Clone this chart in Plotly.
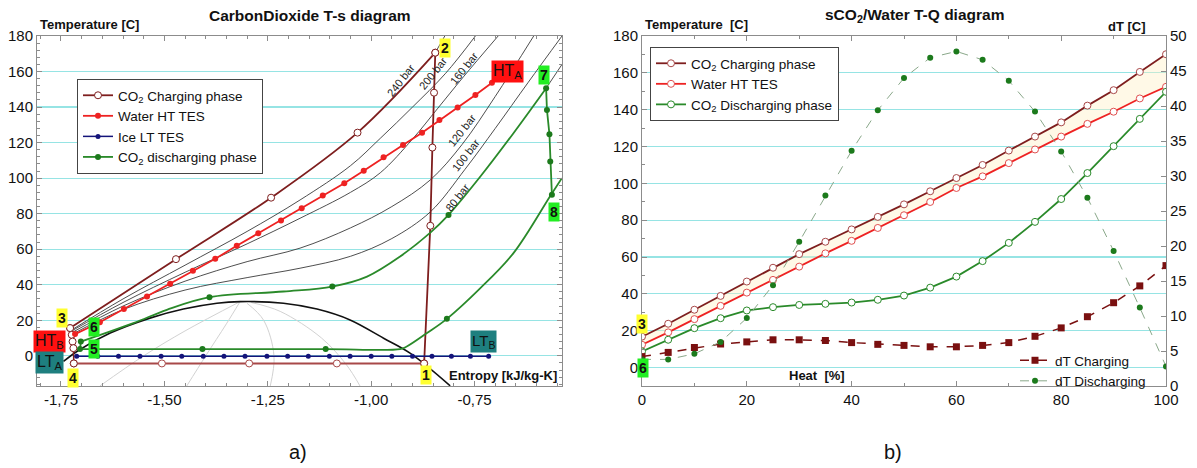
import plotly.graph_objects as go

W, H = 1197, 468

# ---------------- Left chart (T-s) data ----------------
ch12_s = [-0.872, -0.857, -0.852, -0.848, -0.845]
ch12_T = [-4.3, 73.2, 117.2, 148.1, 170.6]
ch23_s = [-0.845, -1.033, -1.242, -1.472, -1.728]
ch23_T = [170.6, 125.6, 89.0, 54.4, 15.6]
ch34_s = [-1.728, -1.724, -1.722, -1.720, -1.719]
ch34_T = [15.6, 11.8, 8.0, 4.3, -4.3]
ch41_s = [-1.719, -1.506, -1.295, -1.083, -0.872]
ch41_T = [-4.3, -4.3, -4.3, -4.3, -4.3]

hw_s = [-1.716, -1.656, -1.598, -1.542, -1.486, -1.431, -1.377, -1.325, -1.273, -1.218,
        -1.168, -1.117, -1.065, -1.018, -0.970, -0.923, -0.877, -0.835, -0.791, -0.748, -0.708]
hw_T = [12.2, 18.9, 26.3, 33.4, 40.5, 47.8, 54.6, 61.9, 69.0, 76.1,
        83.1, 90.2, 97.1, 104.2, 111.7, 118.7, 125.6, 132.7, 139.7, 146.8, 153.7]

ice_s = [-1.712, -1.661, -1.611, -1.559, -1.508, -1.458, -1.406, -1.356, -1.305, -1.252, -1.202,
         -1.152, -1.101, -1.051, -1.000, -0.950, -0.900, -0.853, -0.806, -0.760, -0.716]
ice_T = [-0.3] * 21

dc56_s = [-1.704, -1.702]
dc56_T = [3.8, 8.0]
dc67_s = [-1.702, -1.575, -1.494, -1.391, -1.212, -1.094, -1.010, -0.930, -0.857, -0.813, -0.736, -0.656, -0.577]
dc67_T = [8.0, 18.4, 25.9, 33.0, 36.2, 39.0, 44.6, 55.9, 69.3, 79.3, 100.9, 125.3, 150.6]
dc67_mk_s = [-1.391, -1.094, -0.813]
dc67_mk_T = [33.0, 39.0, 79.3]
dc78_s = [-0.577, -0.575, -0.569, -0.567, -0.563]
dc78_T = [150.6, 138.4, 124.7, 109.3, 90.6]
dc85_s = [-0.539, -0.567, -0.656, -0.736, -0.817, -0.865, -0.914, -0.930, -1.110, -1.408, -1.704]
dc85_T = [100.0, 90.0, 57.8, 38.1, 20.8, 12.8, 5.2, 3.8, 3.8, 3.8, 3.8]
dc85_mk_s = [-0.817, -1.110, -1.408]
dc85_mk_T = [20.8, 3.8, 3.8]

# isobars (thin lines): 200, 160, 120, 100 bar
iso_s = [
    [-1.728, -1.60, -1.45, -1.30, -1.172, -1.05, -0.978, -0.90, -0.82, -0.748],
    [-1.728, -1.60, -1.45, -1.30, -1.172, -1.05, -0.978, -0.90, -0.84, -0.777, -0.693],
    [-1.728, -1.60, -1.45, -1.30, -1.172, -1.05, -0.95, -0.857, -0.78, -0.70, -0.607],
    [-1.728, -1.60, -1.45, -1.30, -1.172, -1.05, -0.95, -0.857, -0.773, -0.70, -0.62, -0.5386],
]
iso_T = [
    [14.0, 32, 51, 70, 87.7, 107, 122.4, 140, 159, 180],
    [13.5, 30, 47, 63, 77.4, 92, 103, 122, 139, 157, 180],
    [12.5, 28, 42, 53, 60.6, 72, 84, 99, 119, 146, 180],
    [11.5, 26, 37, 44, 49.3, 56, 66, 81, 105, 128, 154, 180],
]
iso80_ext_s = [-0.577, -0.5386]
iso80_ext_T = [150.6, 164.0]
iso240_ext_s = [-0.845, -0.822]
iso240_ext_T = [170.6, 180.0]
iso_labels = ["240 bar", "200 bar", "160 bar", "120 bar", "100 bar", "80 bar"]
iso_lab_s = [-0.928, -0.850, -0.775, -0.780, -0.771, -0.790]
iso_lab_T = [155.2, 159.2, 162.0, 127.1, 113.0, 89.1]

dome_s = [-1.744, -1.708, -1.631, -1.535, -1.454, -1.373, -1.317, -1.212, -1.131, -1.051, -0.970, -0.906, -0.809]
dome_T = [-3.2, 3.0, 12.8, 21.2, 26.3, 29.6, 30.5, 29.6, 26.3, 20.2, 9.9, 1.5, -16.9]

qual_s = [
    [-1.656, -1.55, -1.45, -1.317],
    [-1.446, -1.40, -1.35, -1.317],
    [-1.244, -1.235, -1.26, -1.30],
    [-1.027, -1.06, -1.12, -1.22, -1.29],
]
qual_T = [
    [-17, 0, 14, 30.5],
    [-17, 0, 18, 30.5],
    [-17, 0, 20, 29.5],
    [-17, -5, 10, 25, 30],
]

# ---------------- Right chart (T-Q) data ----------------
heat = [0, 5, 10, 15, 20, 25, 30, 35, 40, 45, 50, 55, 60, 65, 70, 75, 80, 85, 90, 95, 100]
tq_charge = [16.8, 23.8, 31.4, 38.9, 46.7, 54.2, 61.6, 68.3, 75.0, 81.8, 88.6, 95.7, 102.9,
             110.0, 117.8, 125.4, 133.1, 142.2, 150.6, 160.5, 170.1]
tq_water = [12.4, 19.1, 26.3, 33.5, 40.7, 47.6, 54.8, 62.0, 68.8, 75.8, 82.7, 89.9, 97.5,
            103.8, 111.0, 118.4, 125.4, 132.3, 138.9, 146.1, 152.4]
tq_disch = [8.8, 15.1, 21.4, 26.8, 31.0, 32.8, 34.0, 34.6, 35.3, 36.8, 39.1, 43.4, 49.4,
            57.8, 67.7, 79.1, 91.5, 105.6, 120.2, 135.0, 149.7]
dt_charge = [4.2, 4.8, 5.5, 6.0, 6.3, 6.6, 6.6, 6.5, 6.2, 5.95, 5.8, 5.6, 5.6, 5.8, 6.2,
             7.1, 8.3, 9.9, 11.9, 14.3, 17.2]
dt_disch = [3.8, 3.8, 4.6, 6.3, 9.7, 14.4, 20.6, 27.2, 33.6, 39.4, 44.0, 46.9, 47.8, 46.6,
            43.6, 39.2, 33.5, 26.9, 19.3, 11.2, 2.8]

left_xticks = [-1.75, -1.50, -1.25, -1.00, -0.75]
left_xtext = ["-1,75", "-1,50", "-1,25", "-1,00", "-0,75"]

# ---------------- styles ----------------
C_BROWN = "#7E1E1E"
C_BROWN2 = "#A84848"
C_RED = "#EE2222"
C_NAVY = "#14147A"
C_GREEN = "#2A8A2A"
C_GREEN_D = "#1C7A1C"
C_ISO = "#3A3A3A"
C_GRID = "#96E4E4"
FONT = "Arial, Liberation Sans, sans-serif"

fig = go.Figure()

def line(xs, ys, color, width=1.5, xa="x", ya="y", **kw):
    fig.add_trace(go.Scatter(x=xs, y=ys, mode="lines", line=dict(color=color, width=width),
                             xaxis=xa, yaxis=ya, showlegend=False, hoverinfo="skip", **kw))

for qs, qt in zip(qual_s, qual_T):
    line(qs, qt, "#D2D2D2", 1, line_shape="spline")
line(dome_s, dome_T, "#111111", 1.6, line_shape="spline")
for s_, t_ in zip(iso_s, iso_T):
    line(s_, t_, C_ISO, 0.9, line_shape="spline")
line(iso80_ext_s, iso80_ext_T, C_ISO, 0.9)
line(iso240_ext_s, iso240_ext_T, C_ISO, 0.9)

# charging cycle
fig.add_trace(go.Scatter(x=ch23_s, y=ch23_T, mode="lines+markers", line=dict(color=C_BROWN, width=1.8, shape="spline"),
                         marker=dict(symbol="circle", size=7, color="white", line=dict(color=C_BROWN, width=1)),
                         name="CO<sub>2</sub> Charging phase", legend="legend"))
fig.add_trace(go.Scatter(x=ch41_s, y=ch41_T, mode="lines+markers", line=dict(color=C_BROWN2, width=2),
                         marker=dict(symbol="circle", size=7, color="white", line=dict(color=C_BROWN2, width=1)),
                         showlegend=False, hoverinfo="skip"))
fig.add_trace(go.Scatter(x=ch12_s, y=ch12_T, mode="lines+markers", line=dict(color=C_BROWN, width=1.8),
                         marker=dict(symbol="circle", size=7, color="white", line=dict(color=C_BROWN, width=1)),
                         showlegend=False))
fig.add_trace(go.Scatter(x=ch34_s, y=ch34_T, mode="lines+markers", line=dict(color=C_BROWN, width=1.5),
                         marker=dict(symbol="circle", size=7, color="white", line=dict(color=C_BROWN, width=1)),
                         showlegend=False))

fig.add_trace(go.Scatter(x=hw_s, y=hw_T, mode="lines+markers", line=dict(color=C_RED, width=1.8),
                         marker=dict(symbol="circle", size=6, color=C_RED),
                         name="Water HT TES", legend="legend"))
fig.add_trace(go.Scatter(x=ice_s, y=ice_T, mode="lines+markers", line=dict(color=C_NAVY, width=1.5),
                         marker=dict(symbol="circle", size=5, color=C_NAVY),
                         name="Ice LT TES", legend="legend"))
line(dc85_s, dc85_T, C_GREEN, 1.8, line_shape="spline")
line(dc67_s, dc67_T, C_GREEN, 1.8, line_shape="spline")
line(dc56_s, dc56_T, C_GREEN, 1.8)
fig.add_trace(go.Scatter(x=dc78_s, y=dc78_T, mode="lines+markers", line=dict(color=C_GREEN, width=1.8),
                         marker=dict(symbol="circle", size=6, color=C_GREEN_D),
                         name="CO<sub>2</sub> discharging phase", legend="legend"))
fig.add_trace(go.Scatter(x=dc67_mk_s + dc85_mk_s + dc56_s, y=dc67_mk_T + dc85_mk_T + dc56_T, mode="markers",
                         marker=dict(symbol="circle", size=6, color=C_GREEN_D), showlegend=False, hoverinfo="skip"))

# ---------------- right chart traces ----------------
fig.add_trace(go.Scatter(x=heat, y=tq_water, mode="lines", line=dict(color=C_RED, width=0),
                         xaxis="x2", yaxis="y2", showlegend=False, hoverinfo="skip"))
fig.add_trace(go.Scatter(x=heat, y=tq_charge, mode="lines", line=dict(color=C_BROWN, width=0),
                         fill="tonexty", fillcolor="rgba(255,240,195,0.4)",
                         xaxis="x2", yaxis="y2", showlegend=False, hoverinfo="skip"))
fig.add_trace(go.Scatter(x=heat, y=tq_charge, mode="lines+markers", line=dict(color=C_BROWN, width=1.8),
                         marker=dict(symbol="circle", size=7, color="white", line=dict(color=C_BROWN2, width=1)),
                         name="CO<sub>2</sub> Charging phase", xaxis="x2", yaxis="y2", legend="legend2"))
fig.add_trace(go.Scatter(x=heat, y=tq_water, mode="lines+markers", line=dict(color=C_RED, width=1.8),
                         marker=dict(symbol="circle", size=7, color="white", line=dict(color="#E05050", width=1)),
                         name="Water HT TES", xaxis="x2", yaxis="y2", legend="legend2"))
fig.add_trace(go.Scatter(x=heat, y=tq_disch, mode="lines+markers", line=dict(color=C_GREEN, width=1.8),
                         marker=dict(symbol="circle", size=7, color="white", line=dict(color=C_GREEN, width=1)),
                         name="CO<sub>2</sub> Discharging phase", xaxis="x2", yaxis="y2", legend="legend2"))
fig.add_trace(go.Scatter(x=heat, y=dt_charge, mode="lines+markers", line=dict(color="#7A1010", width=1.5, dash="dash"),
                         marker=dict(symbol="square", size=7, color="#7A1010"),
                         name="dT Charging", xaxis="x2", yaxis="y3", legend="legend3"))
fig.add_trace(go.Scatter(x=heat, y=dt_disch, mode="lines+markers", line=dict(color="#8AA88A", width=1, dash="dash"),
                         marker=dict(symbol="circle", size=6, color=C_GREEN_D),
                         name="dT Discharging", xaxis="x2", yaxis="y3", legend="legend3"))

# ---------------- axes ----------------
ydom = [1 - 386 / H, 1 - 36 / H]
tickfont = dict(family=FONT, size=15, color="#111")
axcommon = dict(showline=True, linecolor="#8C8C8C", linewidth=1, ticks="inside", ticklen=5,
                tickcolor="#8C8C8C", zeroline=False, tickfont=tickfont, automargin=False)

fig.update_layout(
    xaxis=dict(domain=[37 / W, 562 / W], range=[-1.808, -0.5386], tickvals=left_xticks, ticktext=left_xtext,
               showgrid=False, mirror="ticks", anchor="y",
               minor=dict(ticks="inside", dtick=0.05, tick0=-1.75, ticklen=3, tickcolor="#8C8C8C"), **axcommon),
    yaxis=dict(domain=ydom, range=[-17, 180], dtick=20, tick0=0, showgrid=True, gridcolor=C_GRID, gridwidth=1.2,
               mirror="ticks", anchor="x",
               minor=dict(ticks="inside", dtick=4, tick0=0, ticklen=3, tickcolor="#8C8C8C", showgrid=False), **axcommon),
    xaxis2=dict(domain=[642 / W, 1166 / W], range=[0, 100], dtick=20, tick0=0, showgrid=False, mirror="ticks",
                anchor="y2",
                minor=dict(ticks="inside", dtick=10, ticklen=3, tickcolor="#8C8C8C"), **axcommon),
    yaxis2=dict(domain=ydom, range=[-10, 180], dtick=20, tick0=0, showgrid=True, gridcolor=C_GRID, gridwidth=1.2,
                anchor="x2",
                minor=dict(ticks="inside", dtick=10, ticklen=3, tickcolor="#8C8C8C", showgrid=False), **axcommon),
    yaxis3=dict(overlaying="y2", side="right", range=[0, 50], dtick=5, tick0=0, showgrid=False, anchor="x2",
                **axcommon),
)

LEGFONT = dict(family=FONT, size=13.5, color="#111")
fig.update_layout(
    width=W, height=H, margin=dict(l=0, r=0, t=0, b=0, autoexpand=False),
    paper_bgcolor="white", plot_bgcolor="white",
    font=dict(family=FONT, color="#111"),
    legend=dict(x=77 / W, y=1 - 79 / H, xanchor="left", yanchor="top", bgcolor="white", traceorder="normal",
                bordercolor="#444", borderwidth=1, font=LEGFONT, itemwidth=30),
    legend2=dict(x=650 / W, y=1 - 47 / H, xanchor="left", yanchor="top", bgcolor="white", traceorder="normal",
                 bordercolor="#444", borderwidth=1, font=LEGFONT, itemwidth=30),
    legend3=dict(x=1015 / W, y=1 - 345 / H, xanchor="left", yanchor="top", bgcolor="rgba(0,0,0,0)",
                 traceorder="normal", borderwidth=0, font=LEGFONT, itemwidth=30),
    hovermode=False,
)

ann = []
def txt(text, x, y, size=13, bold=True, xanchor="center", xref="paper", yref="paper", **kw):
    t = f"<b>{text}</b>" if bold else text
    ann.append(dict(text=t, x=x, y=y, xref=xref, yref=yref, showarrow=False, xanchor=xanchor,
                    yanchor="middle", font=dict(family=FONT, size=size, color="#111"), **kw))

txt("CarbonDioxide T-s diagram", 310 / W, 1 - 16 / H, 15.5)
txt("sCO<sub>2</sub>/Water T-Q diagram", 914 / W, 1 - 16 / H, 15.5)
txt("Temperature [C]", 38 / W, 1 - 24 / H, 13, xanchor="left")
txt("Temperature  [C]", 643 / W, 1 - 24 / H, 13, xanchor="left")
txt("dT [C]", 1148 / W, 1 - 26 / H, 13, xanchor="right")
txt("a)", 298 / W, 1 - 452 / H, 20, bold=False)
txt("b)", 893 / W, 1 - 452 / H, 20, bold=False)
txt("Entropy [kJ/kg-K]", 559 / W, 1 - 375 / H, 13, xanchor="right")
txt("Heat  [%]", 817 / W, 1 - 375 / H, 13)

for name, s_, t_ in zip(iso_labels, iso_lab_s, iso_lab_T):
    ann.append(dict(text=name, x=s_, y=t_, xref="x", yref="y", showarrow=False,
                    textangle=-52, font=dict(family=FONT, size=11, color="#222")))

YEL, RD, GR, TL = "#FFFF30", "#FF1010", "#22EE22", "#1E7F7F"
def box(text, x, y, bg, xr, yr, size=14, bold=True):
    t = f"<b>{text}</b>" if bold else text
    ann.append(dict(text=t, x=x, y=y, xref=xr, yref=yr, showarrow=False, bgcolor=bg, borderpad=1,
                    font=dict(family=FONT, size=size, color="#111")))

box("2", -0.822, 173.2, YEL, "x", "y")
box("HT<sub>A</sub>", -0.670, 159.9, RD, "x", "y", 16, False)
box("7", -0.581, 158.0, GR, "x", "y")
box("8", -0.557, 81.2, GR, "x", "y")
box("1", -0.868, -11.0, YEL, "x", "y")
box("LT<sub>B</sub>", -0.729, 8.3, TL, "x", "y", 15, False)
box("3", -1.748, 21.4, YEL, "x", "y")
box("HT<sub>B</sub>", -1.777, 8.0, RD, "x", "y", 16, False)
box("LT<sub>A</sub>", -1.777, -3.7, TL, "x", "y", 16, False)
box("4", -1.720, -12.4, YEL, "x", "y")
box("6", -1.671, 16.0, GR, "x", "y")
box("5", -1.671, 3.9, GR, "x", "y")
box("3", 0, 23.8, YEL, "x2", "y2")
box("HT<sub>B</sub>", -3.6, 9.2, RD, "x2", "y2", 16, False)
box("6", 0.2, 0, GR, "x2", "y2")
box("2", 100.1, 176.4, YEL, "x2", "y2")
box("HT<sub>A</sub>", 103.2, 155.1, RD, "x2", "y2", 16, False)
box("7", 100.1, 140.8, GR, "x2", "y2")

fig.update_layout(annotations=ann)
fig.write_html("out.html", config={"displayModeBar": False, "staticPlot": True},
               post_script="document.body.style.margin='0px';")
